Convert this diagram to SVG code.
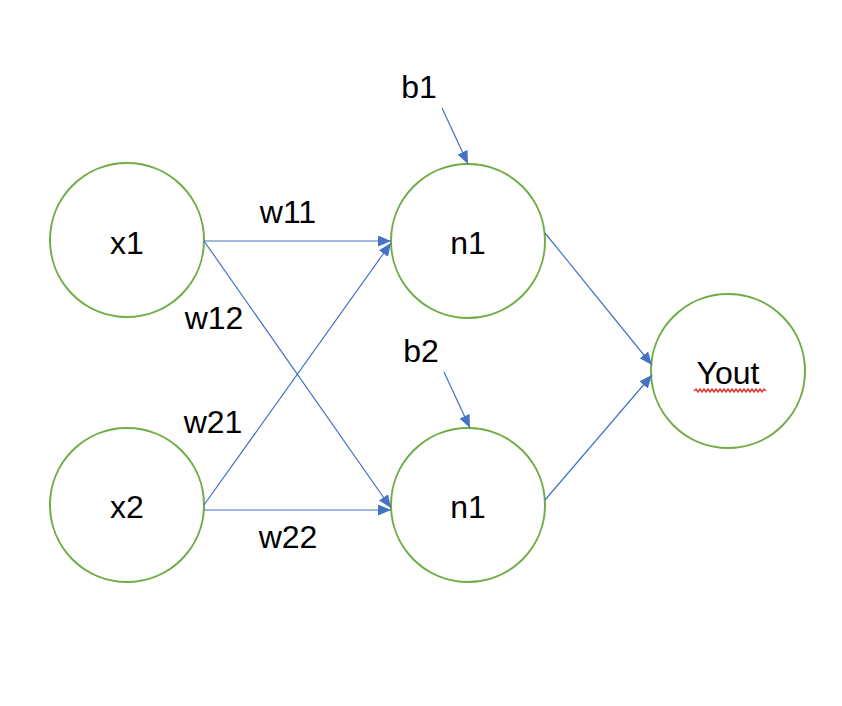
<svg xmlns="http://www.w3.org/2000/svg" width="842" height="706" viewBox="0 0 842 706">
<style>
.node{fill:#fff;stroke:#70AD47;stroke-width:2}
.lbl{font-family:"Liberation Sans",Arial,sans-serif;font-size:32px;fill:#000;text-anchor:middle}
.edge{stroke:#4472C4;stroke-width:1.2;fill:none;marker-end:url(#ah)}
</style>
<defs>
<marker id="ah" markerUnits="userSpaceOnUse" markerWidth="14" markerHeight="12" refX="13" refY="5.5" orient="auto">
<path d="M0,0 L13,5.5 L0,11 z" fill="#4472C4"/>
</marker>
</defs>
<rect width="842" height="706" fill="#fff"/>
<g id="x1"><circle class="node" cx="127" cy="240" r="77"/><text class="lbl" x="127" y="254">x1</text></g>
<g id="x2"><circle class="node" cx="127" cy="505" r="77"/><text class="lbl" x="127" y="518">x2</text></g>
<g id="n1a"><circle class="node" cx="468" cy="241" r="77"/><text class="lbl" x="468" y="254">n1</text></g>
<g id="n1b"><circle class="node" cx="468" cy="505" r="77"/><text class="lbl" x="468" y="518">n1</text></g>
<g id="yout"><circle class="node" cx="728" cy="371" r="77"/><text class="lbl" x="728" y="384">Yout</text>
<polyline points="694,391 696,389 698,392 700,389 702,392 704,389 706,392 708,389 710,392 712,389 714,392 716,389 718,392 720,389 722,392 724,389 726,392 728,389 730,392 732,389 734,392 736,389 738,392 740,389 742,392 744,389 746,392 748,389 750,392 752,389 754,392 756,389 758,392 760,389 762,392 764,389 766,391" fill="none" stroke="#E5322D" stroke-width="1.4"/></g>
<g id="b1"><text class="lbl" x="419" y="98">b1</text></g>
<g id="b2"><text class="lbl" x="421" y="362">b2</text></g>
<g id="connectors">
<line class="edge" x1="204" y1="241" x2="391" y2="241"/>
<line class="edge" x1="204" y1="241" x2="391" y2="508"/>
<line class="edge" x1="204" y1="505" x2="391" y2="243"/>
<line class="edge" x1="204" y1="510" x2="391" y2="510"/>
<line class="edge" x1="442" y1="108" x2="468" y2="164"/>
<line class="edge" x1="444" y1="372" x2="470" y2="428"/>
<line class="edge" x1="545" y1="233" x2="652" y2="365"/>
<line class="edge" x1="545" y1="500" x2="652" y2="375"/>
<text class="lbl" x="288" y="223">w11</text>
<text class="lbl" x="214" y="329">w12</text>
<text class="lbl" x="213" y="433">w21</text>
<text class="lbl" x="288" y="548">w22</text>
</g>
</svg>
